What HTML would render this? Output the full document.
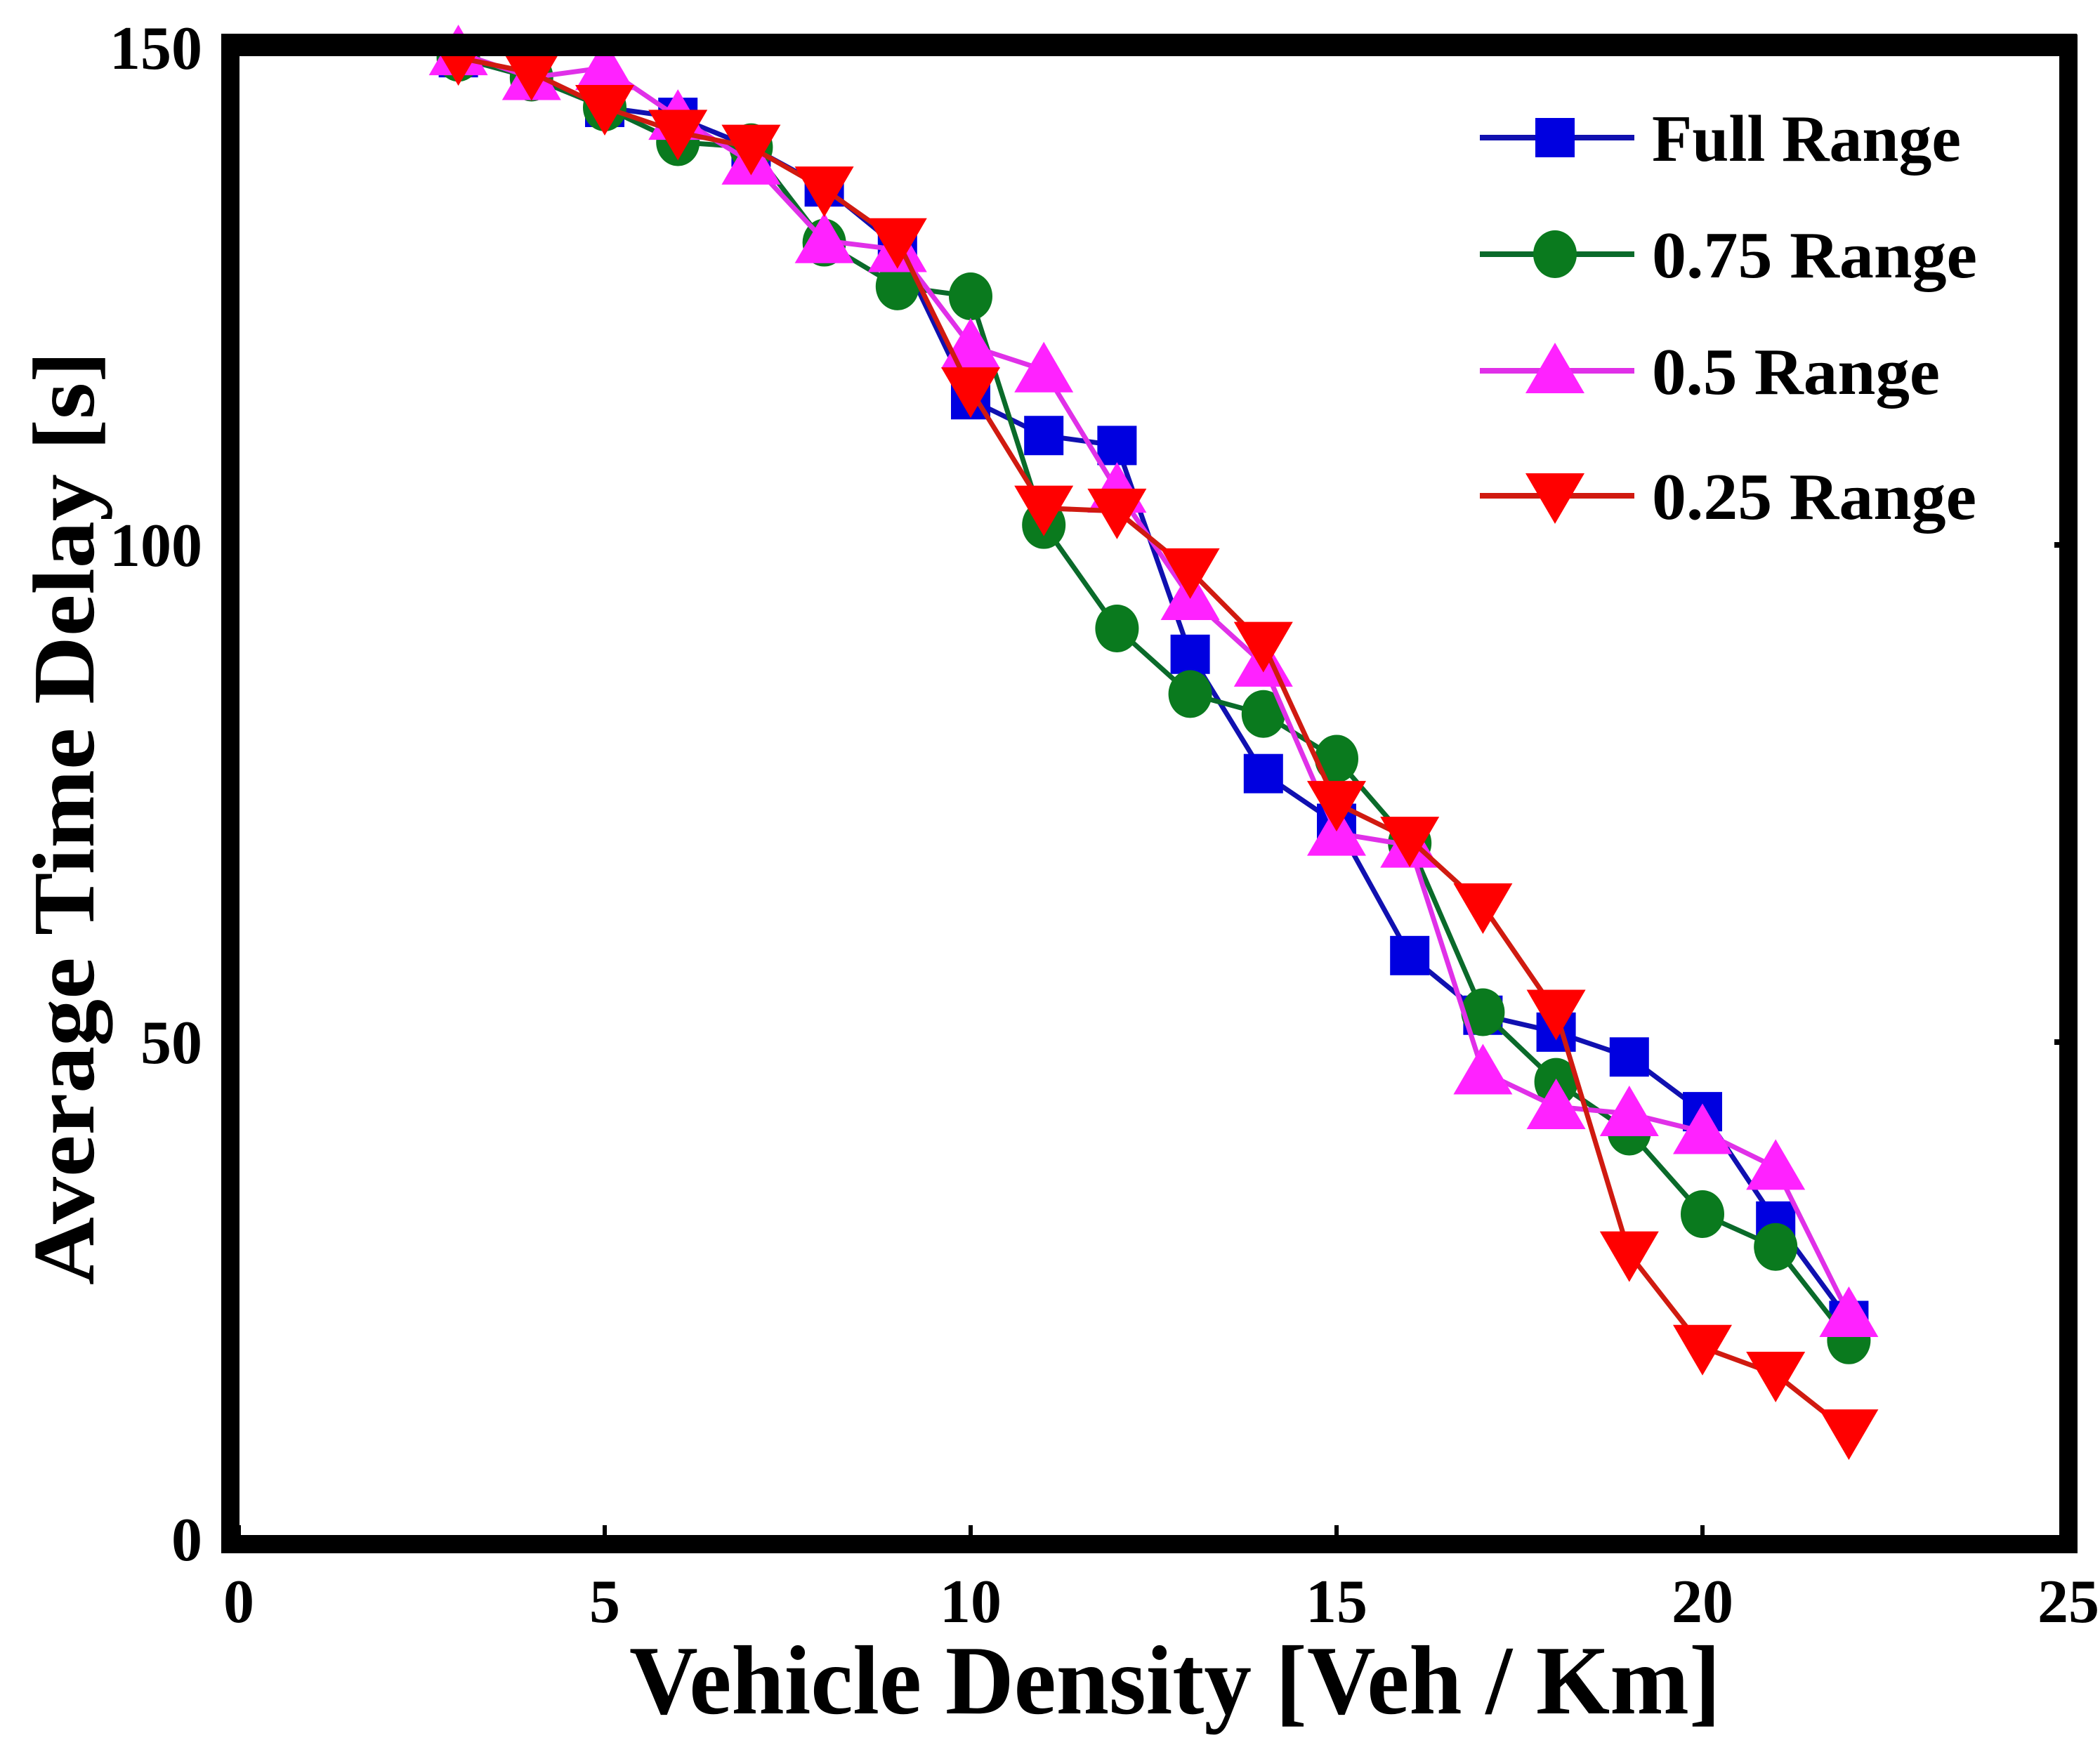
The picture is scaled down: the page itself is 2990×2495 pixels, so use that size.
<!DOCTYPE html>
<html><head><meta charset="utf-8"><style>
html,body{margin:0;padding:0;background:#fff;}
svg{display:block;}
text{font-family:"Liberation Serif",serif;font-weight:bold;fill:#000;}
</style></head><body>
<svg id="chart" width="2990" height="2495" viewBox="0 0 2990 2495" xmlns="http://www.w3.org/2000/svg">
<g id="plot"></g>
</svg>
<script>
const xValues = [3,4,5,6,7,8,9,10,11,12,13,14,15,16,17,18,19,20,21,22];
const fullRange = [149,147,144,143,140,136,130,114.6,111,110,89,77,72,58.7,52.7,51,48.5,43,32,22];
const range075 = [149,147,144,140.5,140,130.4,126,125,102,91.6,85,83,78.5,70,53,46,41,32.7,29.4,20];
const range05 = [149.5,147,148,143,138.5,130.6,129.7,120,117.6,105.5,94.7,88,71,69.8,47,43.5,42.8,41,37.4,22.6];
const range025 = [149,147.5,144,141.5,140,135.8,130.6,115.6,103.7,103.4,97.4,90,74,70.4,63.7,53,28.7,19.3,16.6,10.8];
const xTicks = [0,5,10,15,20,25];
const yTicks = [0,50,100,150];
const seriesNames = ["Full Range","0.75 Range","0.5 Range","0.25 Range"];

const NS = "http://www.w3.org/2000/svg";
const svg = document.getElementById('chart');
const g = document.getElementById('plot');
function xs(v){ return 340 + v*104.2; }
function ys(v){ return 2192 - v*14.16; }
function el(tag, attrs, parent){
  const e = document.createElementNS(NS, tag);
  for (const k in attrs) e.setAttribute(k, attrs[k]);
  (parent||svg).appendChild(e);
  return e;
}
function marker(type, cx, cy, color, parent){
  let m;
  if (type==='square') m = el('rect',{x:cx-28,y:cy-28,width:56,height:56,fill:color},parent);
  else if (type==='circle') m = el('ellipse',{cx:cx,cy:cy,rx:31,ry:34,fill:color},parent);
  else if (type==='up') m = el('polygon',{points:`${cx},${cy-40} ${cx-42},${cy+32} ${cx+42},${cy+32}`,fill:color},parent);
  else m = el('polygon',{points:`${cx},${cy+40} ${cx-42},${cy-32} ${cx+42},${cy-32}`,fill:color},parent);
  return m;
}
const series = [
  {name:seriesNames[0], data:fullRange, color:'#0000e0', line:'#1010b0', m:'square', key:'full-range'},
  {name:seriesNames[1], data:range075, color:'#0a7a1e', line:'#0a6a2a', m:'circle', key:'range-075'},
  {name:seriesNames[2], data:range05, color:'#ff22ff', line:'#e030e8', m:'up', key:'range-05'},
  {name:seriesNames[3], data:range025, color:'#ff0000', line:'#d01a10', m:'down', key:'range-025'}
];
// frame
const frame = el('path',{d:'M328 62 H2945 V2199 H328 Z',fill:'none',stroke:'#000','stroke-width':26});


el('rect',{x:315,y:48,width:2642,height:32,fill:'#000'});
el('rect',{x:315,y:2186,width:2642,height:26,fill:'#000'});
// x ticks
xTicks.forEach(t=>{
  const tk = el('line',{x1:xs(t),x2:xs(t),y1:2172,y2:2190,stroke:'#000','stroke-width':6});
  
  
  const tl = el('text',{x:xs(t),y:2310,'text-anchor':'middle','font-size':88,'font-weight':'normal'});
  tl.textContent = t;
  
  
});
// y ticks
yTicks.forEach(t=>{
  const tk = el('line',{x1:2925,x2:2945,y1:ys(t),y2:ys(t),stroke:'#000','stroke-width':8});
  
  
  const tl = el('text',{x:288,y:ys(t)+30,'text-anchor':'end','font-size':88});
  tl.textContent = t;
  tl.setAttribute('textLength', String(t).length*44);
  tl.setAttribute('lengthAdjust','spacingAndGlyphs');
  
  
});
// series
series.forEach(s=>{
  const grp = el('g',{},g);
  
  
  const pts = s.data.map((v,i)=>xs(xValues[i])+','+ys(v)).join(' ');
  const pl = el('polyline',{points:pts,fill:'none',stroke:s.line,'stroke-width':7,'stroke-linejoin':'round'},grp);
  
  
  s.data.forEach((v,i)=>{
    const m = marker(s.m, xs(xValues[i]), ys(v), s.color, grp);
    
    
  });
});
// legend
const legend = el('g',{});


const legY = [196,362,528,706];
const legW = [440,463,410,462];
series.forEach((s,i)=>{
  const e = el('g',{},legend);
  
  
  el('line',{x1:2107,x2:2327,y1:legY[i],y2:legY[i],stroke:s.line,'stroke-width':8},e);
  marker(s.m, 2214, legY[i], s.color, e);
  const t = el('text',{x:2352,y:legY[i]+33,'font-size':94,textLength:legW[i],lengthAdjust:'spacingAndGlyphs'},e);
  t.textContent = s.name;
});
// axis titles
const xt = el('text',{x:1673,y:2440,'text-anchor':'middle','font-size':140,textLength:1554,lengthAdjust:'spacingAndGlyphs'});
xt.textContent = 'Vehicle Density [Veh / Km]';


const yt = el('text',{x:0,y:0,'text-anchor':'middle','font-size':125,textLength:1330,lengthAdjust:'spacingAndGlyphs',transform:'translate(133,1165) rotate(-90)'});
yt.textContent = 'Average Time Delay [s]';


</script>
</body></html>
